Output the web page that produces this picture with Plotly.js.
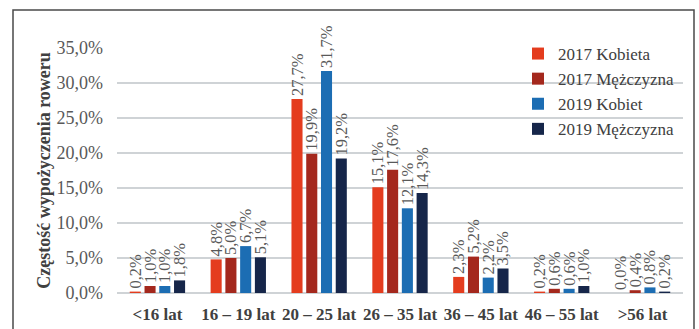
<!DOCTYPE html>
<html>
<head>
<meta charset="utf-8">
<script src="https://cdn.plot.ly/plotly-3.0.1.min.js"></script>
<style>
  html, body { margin: 0; padding: 0; background: #fff; }
  #chart { width: 699px; height: 329px; }
</style>
</head>
<body>
<div id="chart"></div>
<script>
// Age groups on the x axis
const ageGroups = ['<16 lat', '16 – 19 lat', '20 – 25 lat', '26 – 35 lat', '36 – 45 lat', '46 – 55 lat', '>56 lat'];

// Share of bike rentals per group, in percent
const women2017 = [0.2, 4.8, 27.7, 15.1, 2.3, 0.2, 0.0];
const men2017   = [1.0, 5.0, 19.9, 17.6, 5.2, 0.6, 0.4];
const women2019 = [1.0, 6.7, 31.7, 12.1, 2.2, 0.6, 0.8];
const men2019   = [1.8, 5.1, 19.2, 14.3, 3.5, 1.0, 0.2];

const seriesNames = ['2017 Kobieta', '2017 Mężczyzna', '2019 Kobiet', '2019 Mężczyzna'];
const seriesValues = [women2017, men2017, women2019, men2019];
const seriesColors = ['#E43C1E', '#A4281D', '#1C6DB3', '#16264A'];

const serif = '"Liberation Serif", "Times New Roman", "DejaVu Serif", serif';

const traces = seriesValues.map((vals, i) => ({
  type: 'bar',
  name: seriesNames[i],
  x: ageGroups,
  y: vals,
  marker: { color: seriesColors[i], line: { width: 0 } },
  texttemplate: '%{y:.1f}%',
  textposition: 'outside',
  textangle: -90,
  constraintext: 'none',
  cliponaxis: false,
  textfont: { family: serif, size: 16.5, color: '#595959' },
  hoverinfo: 'x+y+name'
}));

// plot area: x 117..683, y 48..293
const L = 117, R = 683, T = 48, B = 293, W = 699, H = 329;
const pw = R - L, ph = B - T;
const px = v => (v - L) / pw;
const py = v => (B - v) / ph;

const layout = {
  width: W,
  height: H,
  margin: { l: L, r: W - R, t: T, b: H - B, pad: 0 },
  paper_bgcolor: '#ffffff',
  plot_bgcolor: '#ffffff',
  separators: ',.',
  font: { family: serif },
  barmode: 'group',
  bargap: 0.27,
  bargroupgap: 0.25,
  showlegend: true,
  legend: {
    x: px(518), y: py(36), xanchor: 'left', yanchor: 'top',
    bgcolor: 'rgba(0,0,0,0)',
    font: { family: serif, size: 17, color: '#404040' },
    itemwidth: 30
  },
  xaxis: {
    type: 'category',
    showgrid: false,
    zeroline: false,
    showline: false,
    ticks: '',
    ticklabelstandoff: 9,
    tickfont: { family: serif, size: 17, color: '#404040', weight: 'bold' },
    automargin: false
  },
  yaxis: {
    range: [0, 35],
    dtick: 5,
    tickformat: '.1f',
    ticksuffix: '%',
    showgrid: true,
    gridcolor: '#CFD3D6',
    gridwidth: 1.5,
    zeroline: true,
    zerolinecolor: '#CFD3D6',
    zerolinewidth: 1.5,
    showline: false,
    ticks: '',
    ticklen: 0,
    ticklabelstandoff: 13,
    tickfont: { family: serif, size: 18, color: '#595959' },
    automargin: false,
    title: {
      text: 'Częstość wypożyczenia roweru',
      font: { family: serif, size: 18, color: '#404040', weight: 'bold' },
      standoff: 1
    }
  },
  shapes: [{
    type: 'rect', xref: 'paper', yref: 'paper',
    x0: px(13), x1: px(694), y0: py(340), y1: py(10),
    line: { color: '#4a4a4a', width: 1.5 },
    fillcolor: 'rgba(0,0,0,0)', layer: 'above'
  }]
};

Plotly.newPlot('chart', traces, layout, { displayModeBar: false, staticPlot: true });
</script>
</body>
</html>
